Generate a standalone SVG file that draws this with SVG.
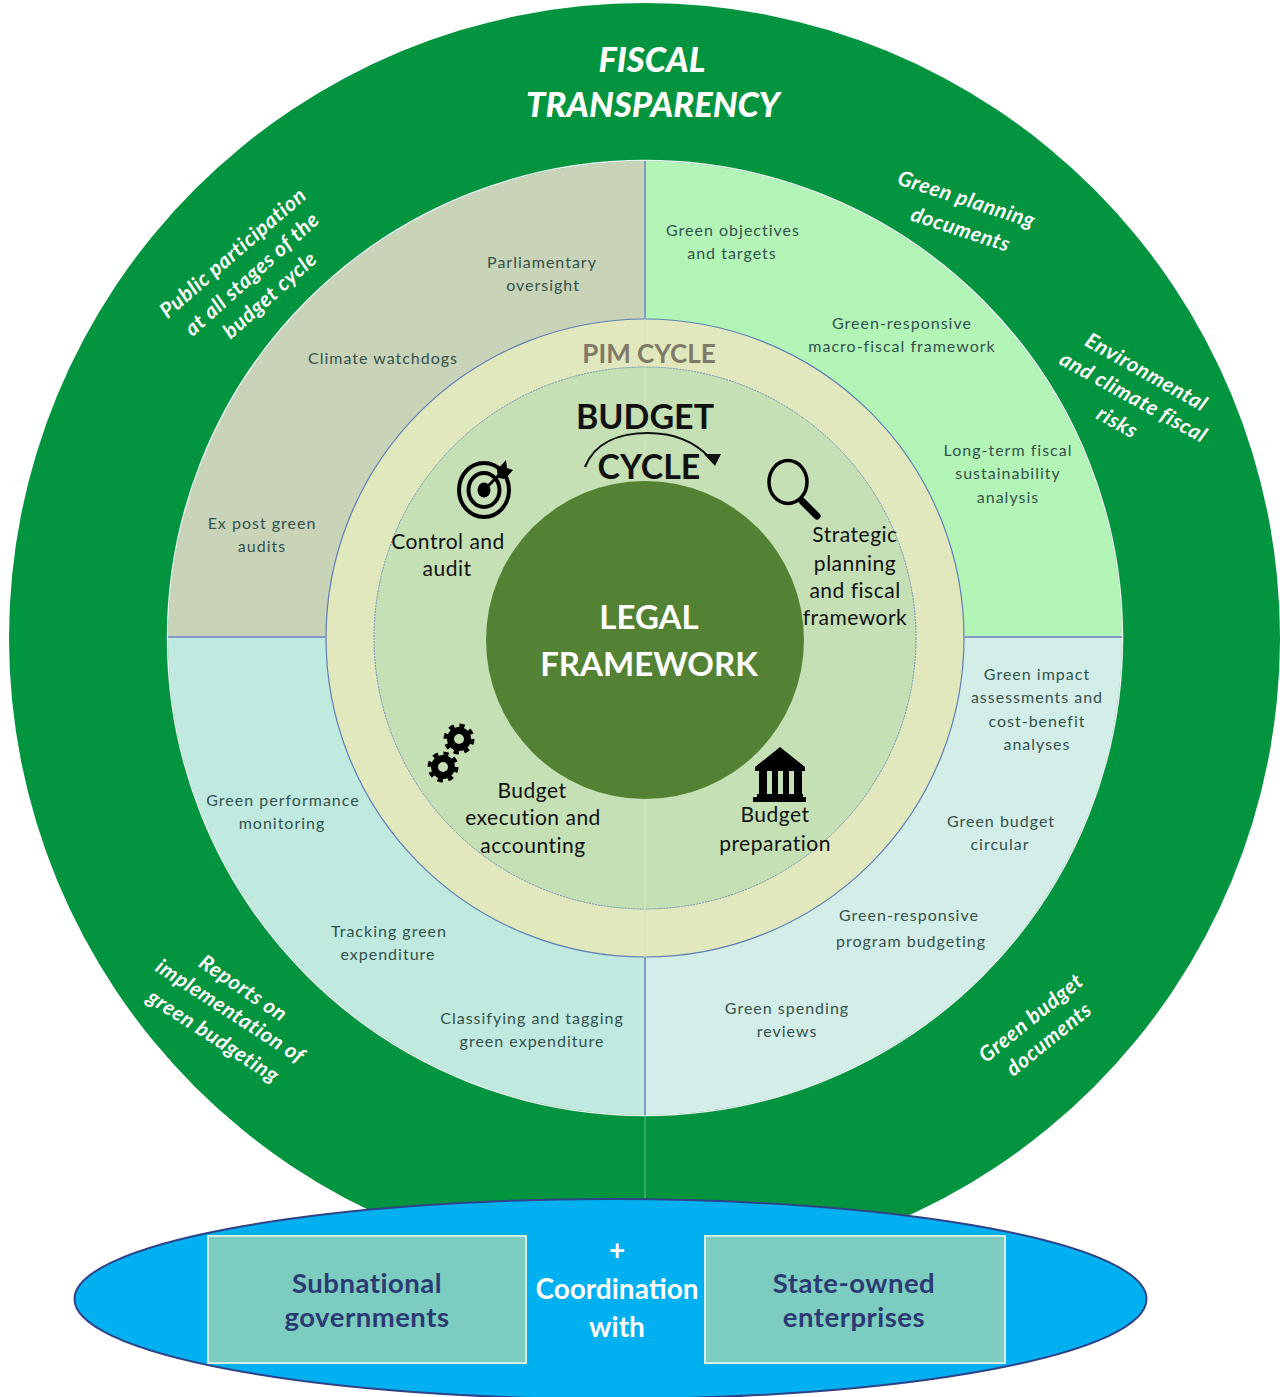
<svg xmlns="http://www.w3.org/2000/svg" width="1280" height="1397" viewBox="0 0 1280 1397">
<defs>
<style>
text{font-family:Lato,"Open Sans",sans-serif;text-anchor:middle;dominant-baseline:central}
.s{font-size:16px;fill:#33524c;letter-spacing:1px}
.o{font-size:21px;fill:#fff;font-weight:700;font-style:italic;letter-spacing:.6px}
.b{font-size:21px;fill:#111;letter-spacing:.5px}
.h{font-size:34px;fill:#111;font-weight:700}
.t{font-size:34.500px;fill:#fff;font-weight:900;font-style:italic}
.l{font-size:33px;fill:#fff;font-weight:700}
.e{font-size:27.500px;fill:#2b3a73;font-weight:700;letter-spacing:.5px}
.c{font-size:28px;fill:#fff;font-weight:700}
.q{stroke:#8199c6;stroke-width:2}
.d{fill:none;stroke:#6f8fbd;stroke-width:1;stroke-dasharray:2 1}
</style>
<g id="gear">
<circle r="8.500" fill="none" stroke="#000" stroke-width="7"/>
<circle r="13.500" fill="none" stroke="#000" stroke-width="4" stroke-dasharray="5.300 5.300"/>
</g>
</defs>
<rect width="1280" height="1397" fill="#fff"/>
<g id="outer-ring"><ellipse cx="644.500" cy="638" rx="635.500" ry="635" fill="#03943f"/></g>
<g id="sectors">
<path d="M645 638V161A477 477 0 0 0 168 638Z" fill="#c8d3b8"/>
<path d="M645 638V161A477 477 0 0 1 1122 638Z" fill="#b3f5b6"/>
<path d="M645 638V1115A477 477 0 0 0 1122 638Z" fill="#d3ede8"/>
<path d="M645 638V1115A477 477 0 0 1 168 638Z" fill="#c0e9e0"/>
<circle cx="645" cy="638" r="477.500" fill="none" stroke="#e9f2ef" stroke-width="1.500"/>
</g>
<g id="pim-cycle"><circle cx="645" cy="638" r="319" fill="#e2e8bd" stroke="#5f7fb5" stroke-width="1.200"/></g>
<g id="budget-cycle"><circle cx="645" cy="638" r="271" fill="#c5e0b4"/><circle class="d" cx="645" cy="638" r="271"/></g>
<g id="connectors">
<path class="q" d="M645 161V319M645 957V1115M168 637H326M964 637H1122" fill="none"/>
<path d="M645 319V481M645 799V957" stroke="#d7e3c4" stroke-width="1" fill="none"/>
<path d="M645 1115V1199" stroke="#6fb98a" stroke-width="1" fill="none"/>
</g>
<g id="legal-framework"><circle cx="645" cy="640" r="159" fill="#548235"/>
<text class="l" x="649" y="616">LEGAL</text><text class="l" x="649" y="663">FRAMEWORK</text></g>
<g id="fiscal-transparency"><text class="t" x="652" y="58">FISCAL</text><text class="t" x="653" y="103">TRANSPARENCY</text></g>
<g id="outer-labels">
<text class="o" transform="translate(232 252) rotate(-41)">Public participation</text>
<text class="o" transform="translate(251 273) rotate(-42)">at all stages of the</text>
<text class="o" transform="translate(269 294) rotate(-42)">budget cycle</text>
<text class="o" transform="translate(967 198) rotate(18)">Green planning</text>
<text class="o" transform="translate(961 228) rotate(18)">documents</text>
<text class="o" transform="translate(1147 371) rotate(29.500)">Environmental</text>
<text class="o" transform="translate(1134 396) rotate(29)">and climate fiscal</text>
<text class="o" transform="translate(1118 421) rotate(29)">risks</text>
<text class="o" transform="translate(1030 1017) rotate(-39)">Green budget</text>
<text class="o" transform="translate(1048 1038) rotate(-39)">documents</text>
<text class="o" transform="translate(244 987) rotate(34)">Reports on</text>
<text class="o" transform="translate(231 1010) rotate(33)">implementation of</text>
<text class="o" transform="translate(214 1035) rotate(33)">green budgeting</text>
</g>
<g id="sector-labels">
<text class="s" x="542" y="261">Parliamentary</text><text class="s" x="543" y="284">oversight</text>
<text class="s" x="383" y="357">Climate watchdogs</text>
<text class="s" x="262" y="522">Ex post green</text><text class="s" x="262" y="545">audits</text>
<text class="s" x="733" y="229">Green objectives</text><text class="s" x="732" y="252">and targets</text>
<text class="s" x="902" y="322">Green-responsive</text><text class="s" x="902" y="345">macro-fiscal framework</text>
<text class="s" x="1008" y="449">Long-term fiscal</text><text class="s" x="1008" y="472">sustainability</text><text class="s" x="1008" y="496">analysis</text>
<text class="s" x="1037" y="673">Green impact</text><text class="s" x="1037" y="696">assessments and</text><text class="s" x="1037" y="720">cost-benefit</text><text class="s" x="1037" y="743">analyses</text>
<text class="s" x="1001" y="820">Green budget</text><text class="s" x="1000" y="843">circular</text>
<text class="s" x="909" y="914">Green-responsive</text><text class="s" x="911" y="940">program budgeting</text>
<text class="s" x="787" y="1007">Green spending</text><text class="s" x="787" y="1030">reviews</text>
<text class="s" x="283" y="799">Green performance</text><text class="s" x="282" y="822">monitoring</text>
<text class="s" x="389" y="930">Tracking green</text><text class="s" x="388" y="953">expenditure</text>
<text class="s" x="532" y="1017">Classifying and tagging</text><text class="s" x="532" y="1040">green expenditure</text>
</g>
<g id="pim-label"><text x="649" y="353" style="font-size:26px;font-weight:700;fill:#7f7a68">PIM CYCLE</text></g>
<g id="budget-title">
<text class="h" x="645" y="415">BUDGET</text><text class="h" x="649" y="465">CYCLE</text>
<path d="M585 467C595 442 620 433 648 433C675 433 695 442 710 458" fill="none" stroke="#111" stroke-width="2.200"/>
<path d="M704 454L721 454L715 466Z" fill="#111"/>
</g>
<g id="control-audit">
<ellipse cx="484" cy="490" rx="25" ry="27" fill="none" stroke="#000" stroke-width="4"/>
<ellipse cx="484" cy="490" rx="15.500" ry="17" fill="none" stroke="#000" stroke-width="4"/>
<ellipse cx="484" cy="490" rx="6.500" ry="7.500" fill="#000"/>
<path d="M484 490L503 471" stroke="#000" stroke-width="3"/>
<path d="M497 470L506 460L507 468L513 470L505 479L498 478Z" fill="#000"/>
<text class="b" x="448" y="540">Control and</text><text class="b" x="447" y="567">audit</text>
</g>
<g id="strategic-planning">
<ellipse cx="788" cy="482" rx="19" ry="21.500" fill="none" stroke="#000" stroke-width="3.500"/>
<path d="M802 501L817 516" stroke="#000" stroke-width="7" stroke-linecap="round"/>
<text class="b" x="855" y="533">Strategic</text><text class="b" x="855" y="562">planning</text><text class="b" x="855" y="589">and fiscal</text><text class="b" x="855" y="616">framework</text>
</g>
<g id="budget-preparation">
<path d="M780 747L805 767V771H755V767Z" fill="#000"/>
<path d="M759 771h8v24h-8zM772 771h6v24h-6zM783 771h6v24h-6zM794 771h8v24h-8z" fill="#000"/>
<path d="M757 794H803V797H806V802H753V797H757Z" fill="#000"/>
<text class="b" x="775" y="813">Budget</text><text class="b" x="775" y="842">preparation</text>
</g>
<g id="execution">
<use href="#gear" x="459" y="739"/><use href="#gear" x="443" y="767"/>
<text class="b" x="532" y="789">Budget</text><text class="b" x="533" y="816">execution and</text><text class="b" x="533" y="844">accounting</text>
</g>
<g id="coordination">
<ellipse cx="610.500" cy="1299" rx="536" ry="100" fill="#00b0f0" stroke="#2f4287" stroke-width="2"/>
<text class="c" x="617" y="1249">+</text><text class="c" x="617" y="1288">Coordination</text><text class="c" x="617" y="1326">with</text>
</g>
<g id="subnational">
<rect x="208" y="1236" width="318" height="127" fill="#7dccc0" stroke="#d4ece8" stroke-width="2"/>
<text class="e" x="367" y="1282">Subnational</text><text class="e" x="367" y="1316">governments</text>
</g>
<g id="soe">
<rect x="705" y="1236" width="300" height="127" fill="#7dccc0" stroke="#d4ece8" stroke-width="2"/>
<text class="e" x="854" y="1282">State-owned</text><text class="e" x="854" y="1316">enterprises</text>
</g>
</svg>
